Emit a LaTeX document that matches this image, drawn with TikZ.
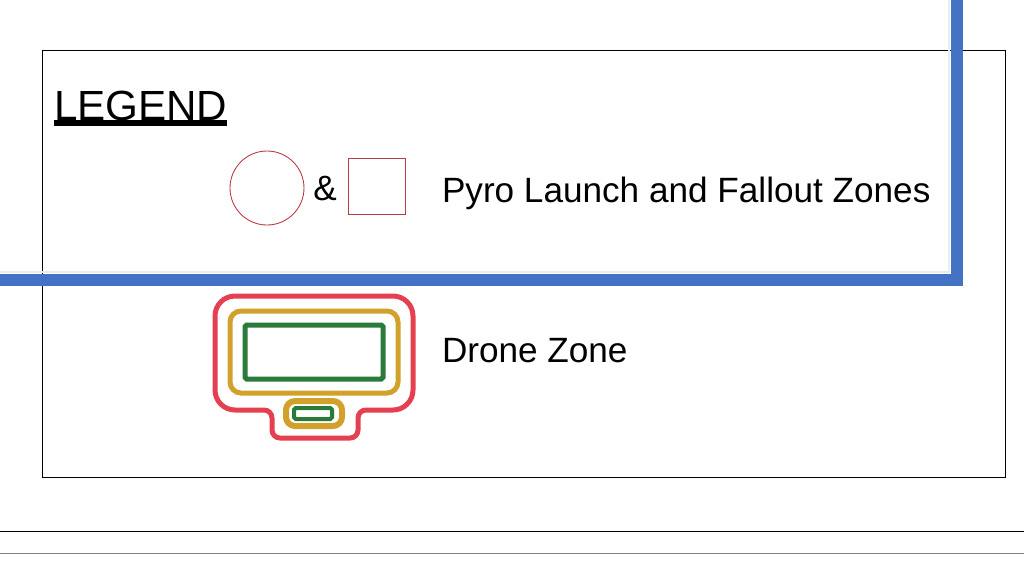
\documentclass[tikz,border=0pt]{standalone}
\usepackage{fontspec}
\setmainfont{Liberation Sans}
\usetikzlibrary{positioning, calc}
\definecolor{legendblue}{HTML}{4472C4}
\definecolor{pyrored}{HTML}{B93A44}
\definecolor{dronered}{HTML}{E5404F}
\definecolor{dronegold}{HTML}{D1A12B}
\definecolor{dronegreen}{HTML}{2A7A3A}
\definecolor{shadowgray}{HTML}{E8ECF2}

\begin{document}
\begin{tikzpicture}[
  x=0.2mm, y=-0.2mm,
  every node/.style={font=\fontsize{20}{24}\selectfont, inner sep=0pt, outer sep=0pt},
  title/.style={font=\fontsize{24}{28}\selectfont, anchor=base west},
  itemtext/.style={anchor=base west},
  frame/.style={draw=black, line width=0.5pt},
  pyrozone/.style={draw=pyrored, line width=0.5pt},
  droneline/.style={line width=0.1cm},
  blueline/.style={draw=legendblue, line width=0.24cm},
]
\useasboundingbox (0,0) rectangle (1024,573);

% legend box
\draw[frame] (42,50) rectangle (1005,477);
\draw[shadowgray, line width=0.05cm] (0,272) -- (949,272) -- (949,0);
\draw[blueline] (0,280) -- (957,280) -- (957,0);

\node[title] (legend) at (54,120) {LEGEND};
\draw[line width=0.12cm] ($(legend.base west)+(0,3)$) -- ($(legend.base east)+(0,3)$);

% pyro
\node[pyrozone, circle, minimum size=1.48cm] (pyrocircle) at (267,188) {};
\node (amp) at (325,189) {\&};
\node[pyrozone, rectangle, minimum width=1.14cm, minimum height=1.12cm] (pyrosquare) at (376.5,186) {};
\node[itemtext] (pyrolabel) at (442,202) {Pyro Launch and Fallout Zones};

% drone
\draw[droneline, dronered, rounded corners=0.4cm] (215,296) -- (413,296) -- (413,410)
  [rounded corners=0.16cm] -- (358,410) -- (358,438) -- (272,438) -- (272,410)
  [rounded corners=0.4cm] -- (215,410) -- cycle;
\draw[droneline, dronegold, rounded corners=0.22cm] (230,311) rectangle (398,393);
\draw[droneline, dronegreen, rounded corners=1pt] (245,325) rectangle (383,379);
\draw[droneline, dronegold, line width=0.12cm, rounded corners=0.18cm] (286,401) rectangle (342,426);
\draw[droneline, dronegreen, line width=0.08cm, rounded corners=1pt] (294,408) rectangle (332,419);
\node[itemtext] (dronelabel) at (442,362) {Drone Zone};

% rules
\draw[frame] (0,531) -- (1024,531);
\draw[frame, draw=gray] (0,553) -- (1024,553);
\end{tikzpicture}
\end{document}
